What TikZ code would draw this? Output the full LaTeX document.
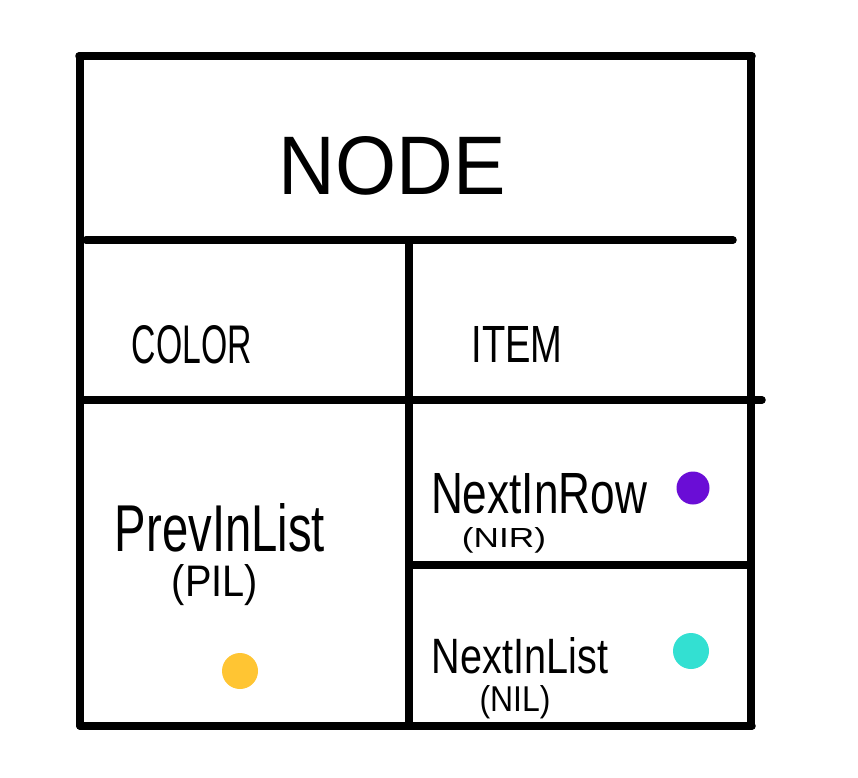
\documentclass[tikz,border=0pt]{standalone}
\usepackage{fontspec}
\setmainfont{Liberation Sans}
\usepackage{graphicx}
\definecolor{dotpurple}{HTML}{6A0DD6}
\definecolor{dotcyan}{HTML}{33E0D2}
\definecolor{dotyellow}{HTML}{FFC533}
\tikzset{
  pen/.style={line width=7.5pt, line cap=round, line join=round, black},
  lbl/.style={inner sep=0pt, anchor=center},
  dot/.style={circle, inner sep=0pt, minimum size=34pt, draw=none}
}
\newcommand{\hwtext}[3]{\resizebox{#1pt}{#2pt}{#3}}
\begin{document}
\begin{tikzpicture}[x=1pt,y=-1pt]
  \fill[white] (0,0) rectangle (858,777);
  \useasboundingbox (0,0) rectangle (858,777);
  % outer frame
  \draw[pen] (79,56) -- (752,56);
  \draw[pen] (80,56) -- (80,726);
  \draw[pen] (80,726) -- (752,726);
  \draw[pen] (751,56) -- (751,726);
  % dividers
  \draw[pen] (86,240) -- (733,240);
  \draw[pen] (409,244) -- (409,724);
  \draw[pen] (80,400) -- (762,400);
  \draw[pen] (409,565) -- (750,565);
  % texts
  \node[lbl] (node) at (392,166) {\hwtext{227}{58}{NODE}};
  \node[lbl] (color) at (192,345) {\hwtext{120}{38}{COLOR}};
  \node[lbl] (item) at (517,344) {\hwtext{91}{36}{ITEM}};
  \node[lbl] (pil) at (220,528) {\hwtext{210}{48}{PrevInList}};
  \node[lbl] (pilabbr) at (215,585) {\hwtext{86}{32}{(PIL)}};
  \node[lbl] (nir) at (539,494) {\hwtext{216}{40}{NextInRow}};
  \node[lbl] (nirabbr) at (504,540) {\hwtext{84}{20}{(NIR)}};
  \node[lbl] (nil) at (520,656) {\hwtext{176}{36}{NextInList}};
  \node[lbl] (nilabbr) at (515,702) {\hwtext{71}{26}{(NIL)}};
  % dots
  \node[dot, fill=dotpurple, minimum size=33pt] (pdot) at (693,488) {};
  \node[dot, fill=dotcyan, minimum size=36pt] (cdot) at (691,651) {};
  \node[dot, fill=dotyellow, minimum size=36pt] (ydot) at (240,671) {};
\end{tikzpicture}
\end{document}
